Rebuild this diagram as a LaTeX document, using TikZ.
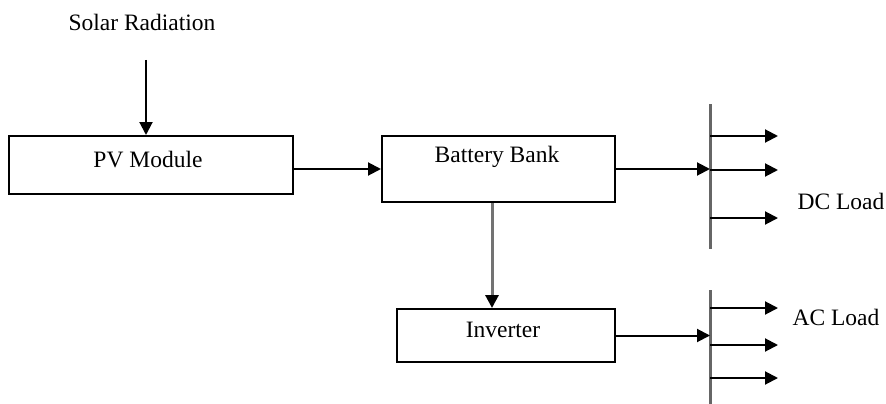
\documentclass[tikz,border=0pt]{standalone}
\usepackage{fontspec}
\setmainfont{Liberation Serif}
\usetikzlibrary{arrows.meta}
\begin{document}
\begin{tikzpicture}[x=1pt,y=-1pt,
  boxst/.style={draw=black, line width=2pt, rectangle, inner sep=0pt},
  lbl/.style={inner sep=0pt, font=\fontsize{23.5}{28}\selectfont},
  arr/.style={line width=2pt, -{Triangle[length=13pt,width=13pt]}},
  busst/.style={draw=black!60, line width=3pt},
  garr/.style={draw=black!55, line width=3pt, -{Triangle[length=13pt,width=13pt,color=black]}}
]
\useasboundingbox (0,0) rectangle (886,404);
% boxes
\node[boxst, minimum width=284pt, minimum height=58pt] (pv) at (151,165) {};
\node[boxst, minimum width=233pt, minimum height=66pt] (bat) at (498.5,169) {};
\node[boxst, minimum width=218pt, minimum height=53pt] (inv) at (506,335.5) {};
% labels
\node[lbl] (solar) at (142,22) {Solar Radiation};
\node[lbl] (pvt) at (148,160) {PV Module};
\node[lbl] (batt) at (497,157) {Battery Bank};
\node[lbl] (invt) at (503,330) {Inverter};
\node[lbl] (dcl) at (841,201) {DC Load};
\node[lbl] (acl) at (836,317) {AC Load};
% buses
\coordinate (dctop) at (710,104);
\coordinate (dcbot) at (710,249);
\coordinate (actop) at (710,290);
\coordinate (acbot) at (710,404);
\draw[busst] (dctop) -- (dcbot);
\draw[busst] (actop) -- (acbot);
% connectors
\coordinate (srs) at (146,60);
\draw[arr] (srs) -- (srs |- pv.north);
\draw[arr] (bat.west -| pv.east) -- (bat.west);
\draw[arr] (bat.east) -- (bat.east -| dctop);
\draw[garr] ([xshift=-6.5pt]bat.south) -- ([xshift=-6.5pt]bat.south |- inv.north);
\draw[arr] (inv.east) -- (inv.east -| actop);
% outgoing DC
\coordinate (d1) at (778,136);
\coordinate (d2) at (778,170);
\coordinate (d3) at (778,218);
\draw[arr] (d1 -| dctop) -- (d1);
\draw[arr] (d2 -| dctop) -- (d2);
\draw[arr] (d3 -| dctop) -- (d3);
% outgoing AC
\coordinate (a1) at (778,308);
\coordinate (a2) at (778,345);
\coordinate (a3) at (778,378);
\draw[arr] (a1 -| actop) -- (a1);
\draw[arr] (a2 -| actop) -- (a2);
\draw[arr] (a3 -| actop) -- (a3);
\end{tikzpicture}
\end{document}
